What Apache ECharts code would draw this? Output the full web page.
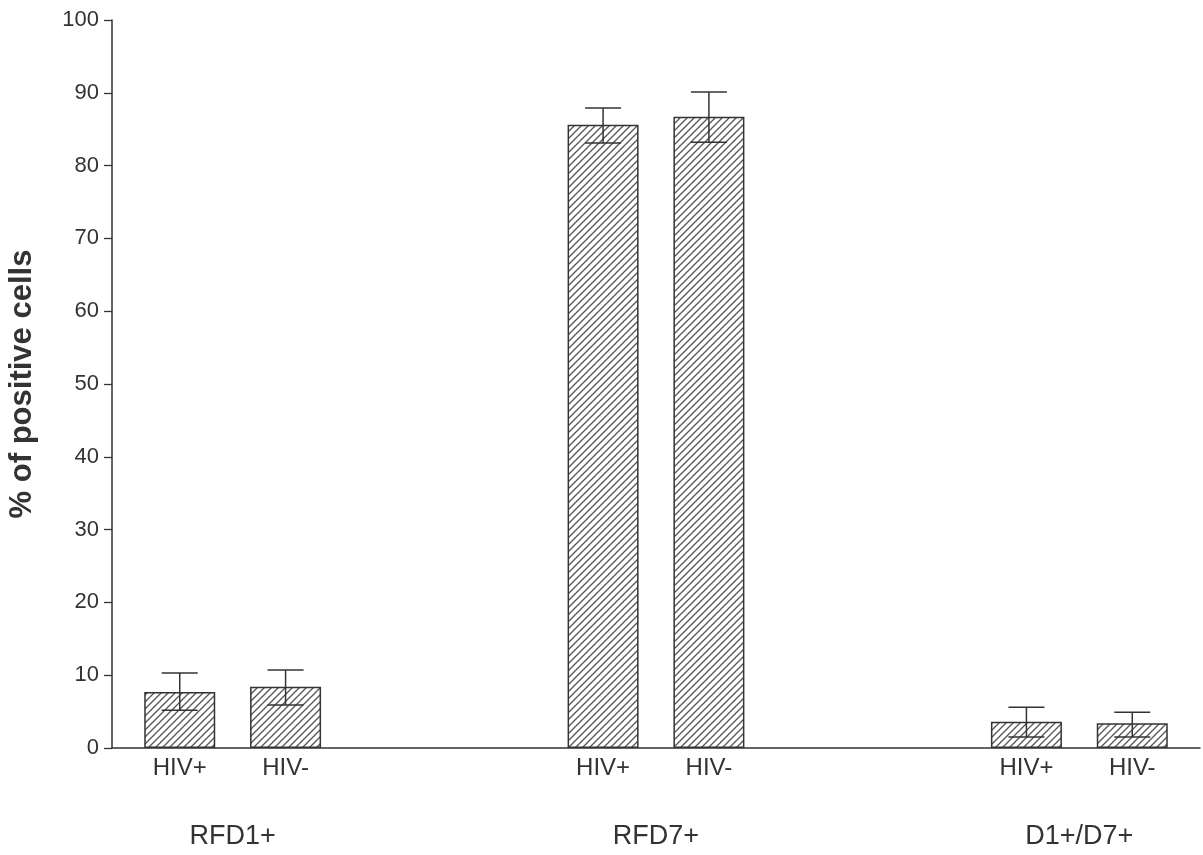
<!DOCTYPE html>
<html>
<head>
<meta charset="utf-8">
<script src="https://cdn.jsdelivr.net/npm/echarts@6/dist/echarts.min.js"></script>
<style>
html,body{margin:0;padding:0;background:#fff;}
#chart{width:1203px;height:855px;}
</style>
</head>
<body>
<div id="chart"></div>
<script>
// ---- data ----
var categories = ['HIV+','HIV-','','','HIV+','HIV-','','','HIV+','HIV-'];
var values     = [7.7, 8.4, null, null, 85.6, 86.7, null, null, 3.6, 3.4];
var errLow     = [5.2, 5.9, null, null, 83.1, 83.2, null, null, 1.5, 1.5];
var errHigh    = [10.3, 10.7, null, null, 87.9, 90.1, null, null, 5.6, 4.9];
var groupNames = ['RFD1+','RFD7+','D1+/D7+'];
var groupCenters = [0.5, 4.5, 8.5]; // category slot midpoints of each pair
var yTitle = '% of positive cells';

// ---- hatch pattern ----
function makeHatch() {
  var s = 7;
  var c = document.createElement('canvas');
  c.width = s; c.height = s;
  var g = c.getContext('2d');
  g.fillStyle = '#ffffff';
  g.fillRect(0,0,s,s);
  g.strokeStyle = '#555';
  g.lineWidth = 1.3;
  g.beginPath();
  g.moveTo(-1, s+1); g.lineTo(s+1, -1);
  g.moveTo(-1, 1); g.lineTo(1, -1);
  g.moveTo(s-1, s+1); g.lineTo(s+1, s-1);
  g.stroke();
  return c;
}
var hatch = makeHatch();

var barData = [], errData = [], labelSlots = [];
for (var i = 0; i < categories.length; i++) {
  if (values[i] != null) {
    barData.push([i, values[i]]);
    errData.push([i, errLow[i], errHigh[i]]);
    labelSlots.push(i);
  }
}

var textColor = '#333';
var font = 'Liberation Sans, Arial, sans-serif';
var xMin = -0.64, xMax = 9.64;

var chart = echarts.init(document.getElementById('chart'), null, {renderer:'canvas'});
chart.setOption({
  backgroundColor: '#fff',
  animation: false,
  grid: {left: 112, right: 3, top: 20, bottom: 107, containLabel: false, outerBoundsMode: 'none'},
  xAxis: [{
    type: 'value', min: xMin, max: xMax,
    axisLine: {show: true, onZero: false, lineStyle: {color: '#333', width: 1.5}},
    axisTick: {show: false},
    splitLine: {show: false},
    axisLabel: {
      show: true, customValues: labelSlots, margin: 8,
      color: textColor, fontSize: 24, fontFamily: font,
      formatter: function (v) { return categories[Math.round(v)] || ''; }
    }
  }, {
    type: 'value', min: xMin, max: xMax, position: 'bottom', offset: 67,
    axisLine: {show: false, onZero: false}, axisTick: {show: false}, splitLine: {show: false},
    axisLabel: {
      show: true, customValues: groupCenters, margin: 8,
      color: textColor, fontSize: 27, fontFamily: font,
      formatter: function (v) {
        for (var k = 0; k < groupCenters.length; k++) if (Math.abs(groupCenters[k]-v) < 1e-6) return groupNames[k];
        return '';
      }
    }
  }],
  yAxis: {
    type: 'value', min: 0, max: 100, interval: 10,
    name: yTitle, nameLocation: 'middle', nameRotate: 90, nameGap: 74,
    nameTextStyle: {color: textColor, fontSize: 31, fontWeight: 'bold', fontFamily: font},
    axisLine: {show: true, onZero: false, lineStyle: {color: '#333', width: 1.5}},
    axisTick: {show: true, inside: false, length: 8, lineStyle: {color: '#333', width: 1.3}},
    splitLine: {show: false},
    axisLabel: {color: textColor, fontSize: 22, margin: 13, fontFamily: font}
  },
  series: [{
    type: 'bar', xAxisIndex: 0, yAxisIndex: 0,
    data: barData, barWidth: 71,
    itemStyle: {color: {image: hatch, repeat: 'repeat'}, borderColor: '#333', borderWidth: 1.5},
    z: 2
  }, {
    type: 'custom', xAxisIndex: 0, yAxisIndex: 0,
    data: errData,
    renderItem: function (params, api) {
      var x = api.value(0);
      var lo = api.coord([x, api.value(1)]);
      var hi = api.coord([x, api.value(2)]);
      var hw = 18;
      var st = {stroke: '#333', lineWidth: 1.5};
      return {type: 'group', children: [
        {type: 'line', shape: {x1: lo[0], y1: lo[1], x2: hi[0], y2: hi[1]}, style: st},
        {type: 'line', shape: {x1: hi[0]-hw, y1: hi[1], x2: hi[0]+hw, y2: hi[1]}, style: st},
        {type: 'line', shape: {x1: lo[0]-hw, y1: lo[1], x2: lo[0]+hw, y2: lo[1]}, style: st}
      ]};
    },
    z: 3
  }]
});
</script>
</body>
</html>
